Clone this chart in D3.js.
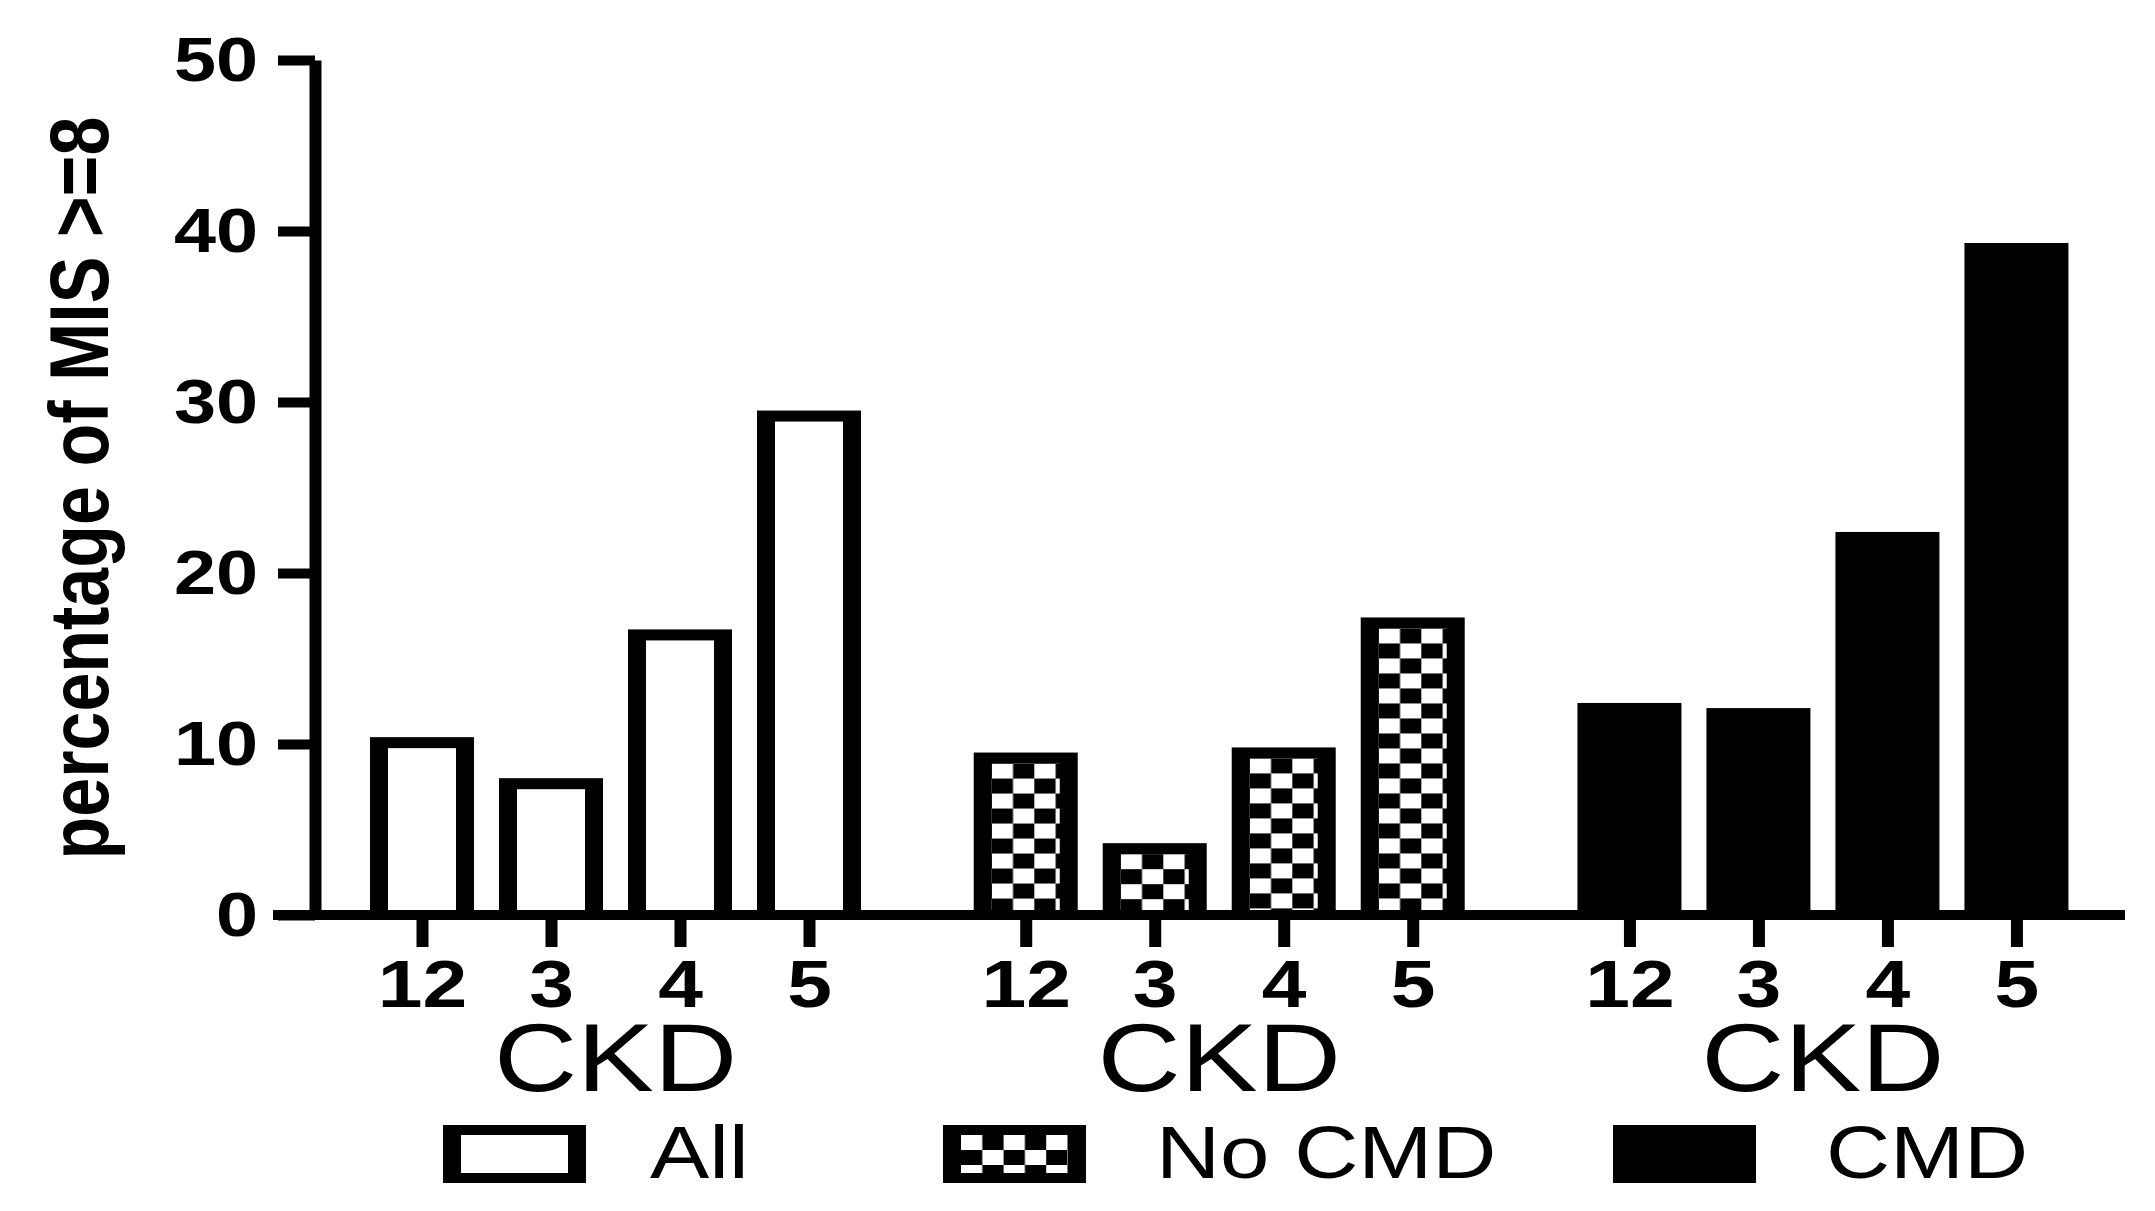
<!DOCTYPE html>
<html lang="en">

<head>
  <meta charset="UTF-8">
  <title>MIS >=8 by CKD stage</title>
  <style>
    body {
      margin: 0;
      background: #fff;
    }

    svg {
      display: block;
    }

    text {
      font-family: 'Liberation Sans', Arial, sans-serif;
      fill: #000;
    }
  </style>
</head>

<body>
  <div id="chart"></div>
</body>
<script src="https://d3js.org/d3.v7.min.js"></script>

<script>
  // values
  const groups = ['All', 'No CMD', 'CMD']
  const stages = ['12', '3', '4', '5']
  const allValues = [10.4, 8.0, 16.7, 29.5]
  const noCmdValues = [9.5, 4.2, 9.8, 17.4]
  const cmdValues = [12.4, 12.1, 22.4, 39.3]
  const yTicks = [0, 10, 20, 30, 40, 50]
  const groupTitle = 'CKD'
  const yTitle = 'percentage of MIS >=8'

  const W = 2155, H = 1211
  const sx = 1.2 // the original is stretched sideways, so is the text
  const gap = 0.68 // extra empty slots between groups
  const bw = 104, sideInset = 18, topInset = 11
  const cellW = 21.3, cellH = 15

  const series = [allValues, noCmdValues, cmdValues]
  let rows = []
  series.forEach((vals, g) => {
    vals.forEach((v, i) => {
      rows.push({ group: g, stage: stages[i], value: v, slot: i + g * (4 + gap) })
    })
  })

  const svg = d3.select('#chart').append('svg')
    .attr('width', W)
    .attr('height', H)

  svg.append('rect').attr('width', W).attr('height', H).attr('fill', 'white')

  const defs = svg.append('defs')

  // checker fill, started at the top left corner of the box it fills
  function checker(id, x0, y0) {
    const pat = defs.append('pattern')
      .attr('id', id)
      .attr('patternUnits', 'userSpaceOnUse')
      .attr('x', x0)
      .attr('y', y0)
      .attr('width', cellW * 2)
      .attr('height', cellH * 2)
    pat.append('rect').attr('width', cellW * 2).attr('height', cellH * 2).attr('fill', 'white')
    pat.append('rect').attr('x', cellW).attr('width', cellW).attr('height', cellH).attr('fill', 'black')
    pat.append('rect').attr('y', cellH).attr('width', cellW).attr('height', cellH).attr('fill', 'black')
    return `url(#${id})`
  }

  const y = d3.scaleLinear().domain([0, 50]).range([915, 60])
  const x = d3.scaleLinear().domain([0, 1]).range([422, 551])

  function innerFill(g, id, x0, y0) {
    if (g === 0) return 'white'
    if (g === 2) return 'black'
    return checker(id, x0, y0)
  }

  //bars: black outer box, inner fill
  const bars = svg.append('g').selectAll('g')
    .data(rows)
    .enter()
    .append('g')

  bars.append('rect')
    .attr('x', d => x(d.slot) - bw / 2)
    .attr('y', d => y(d.value))
    .attr('width', bw)
    .attr('height', d => y(0) - y(d.value))
    .attr('fill', 'black')

  bars.append('rect')
    .attr('x', d => x(d.slot) - bw / 2 + sideInset)
    .attr('y', d => y(d.value) + topInset)
    .attr('width', bw - 2 * sideInset)
    .attr('height', d => Math.max(0, y(0) - y(d.value) - topInset))
    .attr('fill', (d, i) => innerFill(d.group, 'bar' + i, x(d.slot) - bw / 2 + sideInset, y(d.value) + topInset))

  //y axis
  const yAxis = svg.append('g')
    .attr('transform', 'translate(315,0)')
    .call(d3.axisLeft(y).tickValues(yTicks).tickSize(37).tickSizeOuter(0).tickPadding(0))
  yAxis.select('.domain').attr('stroke', 'black').attr('stroke-width', 12)
  yAxis.selectAll('.tick line').attr('stroke', 'black').attr('stroke-width', 10)
  yAxis.selectAll('.tick text')
    .attr('x', 0)
    .attr('transform', 'translate(-57,0) scale(' + sx + ',1)')
    .style('font-size', '63px')
    .style('font-weight', 'bold')
    .style('font-family', "'Liberation Sans', Arial, sans-serif")

  //x axis
  svg.append('line')
    .attr('x1', 273)
    .attr('x2', 2125)
    .attr('y1', y(0))
    .attr('y2', y(0))
    .attr('stroke', 'black')
    .attr('stroke-width', 10)

  const xAxis = svg.append('g')
    .attr('transform', `translate(0,${y(0)})`)
    .call(d3.axisBottom(x).tickValues(rows.map(d => d.slot)).tickFormat((d, i) => rows[i].stage).tickSize(32))
  xAxis.select('.domain').remove()
  xAxis.selectAll('.tick line').attr('stroke', 'black').attr('stroke-width', 12)
  xAxis.selectAll('.tick text')
    .attr('y', 0)
    .attr('dy', 0)
    .attr('transform', 'translate(0,92) scale(' + sx + ',1)')
    .style('font-size', '67px')
    .style('font-weight', 'bold')
    .style('font-family', "'Liberation Sans', Arial, sans-serif")

  //CKD under each group
  svg.append('g').selectAll('text')
    .data(groups)
    .enter()
    .append('text')
    .attr('text-anchor', 'middle')
    .attr('transform', (d, g) => `translate(${x(1.5 + g * (4 + gap))},1091) scale(${sx},1)`)
    .style('font-size', '96px')
    .text(groupTitle)

  //y title
  svg.append('text')
    .attr('text-anchor', 'middle')
    .attr('transform', `translate(108,488) scale(${sx},1) rotate(-90)`)
    .style('font-size', '70px')
    .style('font-weight', 'bold')
    .text(yTitle)

  //legend
  const boxX = [443, 943, 1613], textX = [650, 1156, 1826]
  const boxY = 1125, boxW = 143, boxH = 58
  const lg = svg.append('g').selectAll('g')
    .data(groups)
    .enter()
    .append('g')
  lg.append('rect')
    .attr('x', (d, i) => boxX[i])
    .attr('y', boxY)
    .attr('width', boxW)
    .attr('height', boxH)
    .attr('fill', 'black')
  lg.append('rect')
    .attr('x', (d, i) => boxX[i] + sideInset)
    .attr('y', boxY + 10)
    .attr('width', boxW - 2 * sideInset)
    .attr('height', boxH - 20)
    .attr('fill', (d, i) => innerFill(i, 'key' + i, boxX[i] + sideInset, boxY + 10))
  lg.append('text')
    .attr('transform', (d, i) => `translate(${textX[i]},1178) scale(${sx},1)`)
    .style('font-size', '74px')
    .text(d => d)
</script>

</html>
